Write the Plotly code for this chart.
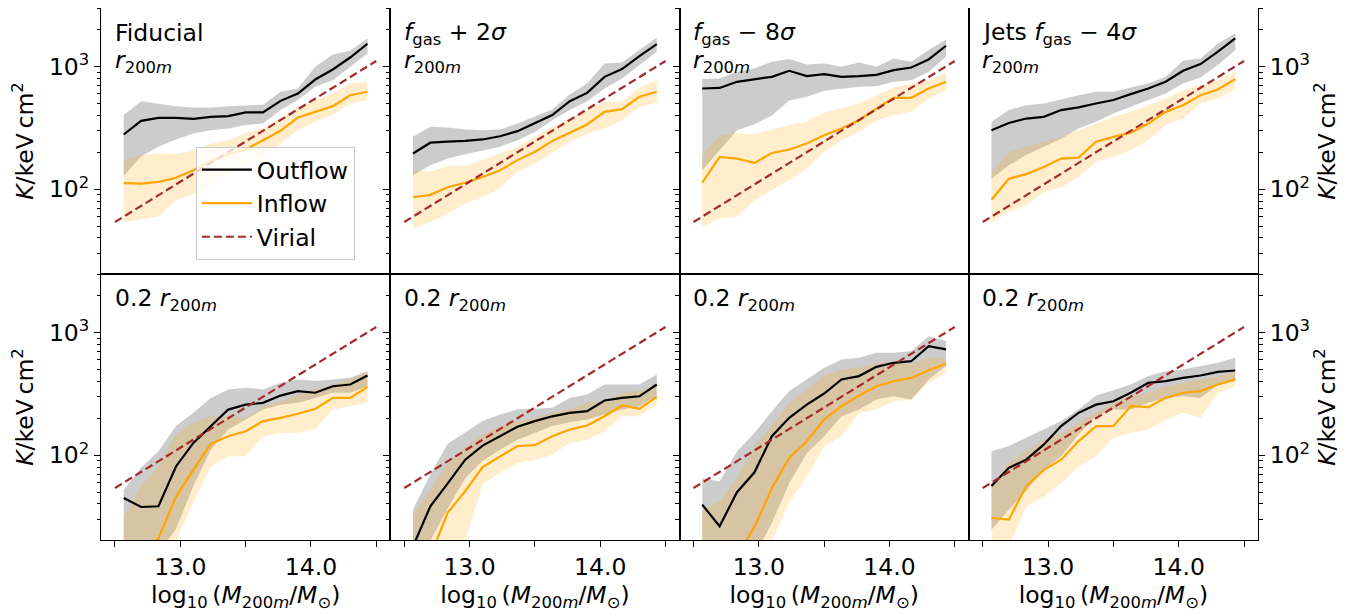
import plotly.graph_objects as go
from plotly.subplots import make_subplots

# ---------------- data ----------------
X_CENTERS = [12.567, 12.700, 12.833, 12.967, 13.100, 13.233, 13.367, 13.500,
             13.633, 13.767, 13.900, 14.033, 14.167, 14.300, 14.433]

VIRIAL_X = [12.5, 14.5]
VIRIAL_K = [54, 1115]

PANEL_TITLES = ["Fiducial", "<i>f</i><sub>gas</sub> + 2<i>σ</i>",
                "<i>f</i><sub>gas</sub> − 8<i>σ</i>", "Jets <i>f</i><sub>gas</sub> − 4<i>σ</i>"]
ROW_LABELS = ["<i>r</i><sub>200<i>m</i></sub>", "0.2 <i>r</i><sub>200<i>m</i></sub>"]

X_TICKS = [12.5, 13.0, 13.5, 14.0, 14.5]
X_TICKTEXT = ["", "13.0", "", "14.0", ""]
Y_TICKS = [100, 1000]
Y_TICKTEXT = ["10<sup>2</sup>", "10<sup>3</sup>"]
Y_MINOR = [20, 30, 40, 50, 60, 70, 80, 90, 200, 300, 400, 500, 600, 700, 800, 900, 2000, 3000]

# --- r200m (top row) ---
FID_R_OUT = [280, 362, 383, 383, 376, 390, 395, 424, 424, 527, 605, 787, 951, 1191, 1542]
FID_R_OUT_HI = [403, 523, 500, 477, 466, 466, 477, 486, 490, 625, 665, 1000, 1261, 1351, 1706]
FID_R_OUT_LO = [128, 186, 222, 255, 285, 303, 313, 334, 344, 443, 535, 687, 778, 1000, 1285]
FID_R_IN = [112, 111, 115, 124, 143, 169, 193, 211, 251, 300, 385, 428, 477, 586, 625]
FID_R_IN_HI = [173, 190, 196, 194, 208, 236, 251, 288, 313, 378, 471, 535, 605, 731, 754]
FID_R_IN_LO = [54, 57, 60, 81, 92, 108, 134, 154, 184, 236, 303, 355, 403, 501, 535]

P2_R_OUT = [196, 240, 245, 248, 255, 271, 298, 344, 403, 523, 612, 828, 957, 1222, 1531]
P2_R_OUT_HI = [268, 324, 320, 307, 303, 307, 344, 390, 448, 594, 731, 1065, 1084, 1368, 1738]
P2_R_OUT_LO = [130, 157, 178, 193, 208, 222, 251, 294, 366, 443, 523, 665, 804, 1032, 1327]
P2_R_IN = [86, 90, 104, 113, 126, 143, 173, 202, 248, 288, 338, 428, 451, 569, 625]
P2_R_IN_HI = [143, 139, 155, 155, 173, 196, 222, 268, 324, 378, 443, 517, 517, 678, 778]
P2_R_IN_LO = [48, 54, 63, 76, 87, 103, 139, 162, 198, 244, 285, 313, 366, 471, 508]

M8_R_OUT = [665, 672, 754, 793, 828, 927, 839, 871, 828, 839, 860, 939, 987, 1148, 1485]
M8_R_OUT_HI = [793, 803, 910, 969, 1099, 1155, 1045, 1065, 1000, 1084, 1000, 1170, 1099, 1368, 1671]
M8_R_OUT_LO = [143, 208, 303, 340, 400, 530, 569, 637, 665, 687, 694, 754, 778, 910, 1207]
M8_R_IN = [113, 184, 178, 164, 198, 211, 236, 276, 313, 366, 456, 558, 558, 665, 754]
M8_R_IN_HI = [190, 276, 288, 280, 307, 334, 355, 421, 456, 501, 586, 678, 731, 778, 893]
M8_R_IN_LO = [49, 58, 60, 81, 98, 119, 148, 202, 251, 294, 362, 403, 428, 551, 644]

JET_R_OUT = [303, 348, 378, 390, 443, 466, 501, 535, 598, 665, 754, 927, 1051, 1327, 1706]
JET_R_OUT_HI = [355, 443, 486, 501, 541, 586, 625, 625, 678, 731, 828, 1120, 1170, 1552, 1872]
JET_R_OUT_LO = [122, 157, 190, 222, 259, 313, 355, 416, 471, 535, 605, 731, 818, 1032, 1368]
JET_R_IN = [82, 122, 133, 152, 178, 181, 244, 268, 290, 344, 428, 486, 586, 653, 793]
JET_R_IN_HI = [139, 202, 222, 244, 268, 303, 344, 390, 428, 486, 551, 644, 708, 778, 910]
JET_R_IN_LO = [54, 65, 74, 95, 104, 126, 167, 184, 208, 251, 334, 378, 501, 551, 665]

# --- 0.2 r200m (bottom row) ---
FID_C_OUT = [44.8, 37.8, 38.3, 81, 126, 173, 236, 259, 268, 307, 334, 324, 366, 378, 448]
FID_C_OUT_HI = [52, 79, 108, 173, 222, 294, 344, 356, 344, 390, 416, 403, 416, 429, 486]
FID_C_OUT_LO = [10, 12, 16, 25, 56, 111, 162, 196, 236, 259, 268, 294, 324, 324, 366]
FID_C_IN = [12, 14, 21, 46, 76, 124, 143, 157, 190, 202, 218, 239, 294, 294, 362]
FID_C_IN_HI = [31, 56, 81, 148, 184, 208, 208, 202, 251, 276, 313, 344, 378, 416, 486]
FID_C_IN_LO = [8, 9, 12, 20, 41, 81, 98, 98, 143, 152, 152, 164, 236, 251, 268]

P2_C_OUT = [18, 38.3, 59, 92, 120, 143, 171, 190, 208, 222, 229, 280, 294, 303, 378]
P2_C_OUT_HI = [36, 69.5, 124, 154, 190, 215, 236, 240, 244, 294, 313, 378, 378, 378, 457]
P2_C_OUT_LO = [5, 20, 37, 65, 90, 111, 134, 152, 173, 186, 196, 215, 236, 251, 303]
P2_C_IN = [10, 15, 34, 51, 80, 98, 119, 121, 143, 162, 175, 208, 255, 239, 300]
P2_C_IN_HI = [32, 52, 86, 115, 148, 171, 190, 202, 222, 236, 268, 276, 324, 334, 378]
P2_C_IN_LO = [5, 8, 15, 20, 57.5, 72, 86, 92, 101, 126, 134, 157, 208, 208, 259]

M8_C_OUT = [39.5, 26.3, 49.9, 72.6, 143, 202, 259, 319, 416, 443, 527, 569, 586, 778, 731]
M8_C_OUT_HI = [65, 61, 108, 152, 229, 334, 416, 518, 605, 625, 687, 687, 708, 939, 855]
M8_C_OUT_LO = [8, 10, 15, 15, 28, 59, 104, 143, 208, 236, 285, 303, 285, 416, 535]
M8_C_IN = [8, 11, 15, 26, 54, 95, 130, 196, 252, 307, 366, 403, 428, 495, 558]
M8_C_IN_HI = [36, 42, 65, 119, 173, 268, 344, 443, 501, 518, 569, 569, 551, 625, 625]
M8_C_IN_LO = [5, 7, 9, 12, 20, 41, 67, 119, 143, 222, 236, 276, 285, 390, 471]

JET_C_OUT = [56, 79, 92, 122, 173, 222, 259, 276, 324, 390, 403, 428, 448, 480, 492]
JET_C_OUT_HI = [108, 119, 139, 162, 190, 236, 307, 340, 378, 443, 486, 501, 535, 569, 625]
JET_C_OUT_LO = [24.6, 36, 51, 76, 98, 148, 208, 236, 236, 268, 294, 303, 294, 378, 403]
JET_C_IN = [30.8, 29.8, 56, 76, 92, 130, 173, 173, 252, 247, 294, 324, 334, 378, 416]
JET_C_IN_HI = [56, 86, 108, 134, 148, 184, 222, 268, 303, 324, 366, 390, 416, 448, 471]
JET_C_IN_LO = [15, 18, 38, 46, 59, 81, 98, 139, 152, 162, 196, 222, 202, 324, 366]

PANELS = [
    [(FID_R_OUT, FID_R_OUT_LO, FID_R_OUT_HI, FID_R_IN, FID_R_IN_LO, FID_R_IN_HI),
     (P2_R_OUT, P2_R_OUT_LO, P2_R_OUT_HI, P2_R_IN, P2_R_IN_LO, P2_R_IN_HI),
     (M8_R_OUT, M8_R_OUT_LO, M8_R_OUT_HI, M8_R_IN, M8_R_IN_LO, M8_R_IN_HI),
     (JET_R_OUT, JET_R_OUT_LO, JET_R_OUT_HI, JET_R_IN, JET_R_IN_LO, JET_R_IN_HI)],
    [(FID_C_OUT, FID_C_OUT_LO, FID_C_OUT_HI, FID_C_IN, FID_C_IN_LO, FID_C_IN_HI),
     (P2_C_OUT, P2_C_OUT_LO, P2_C_OUT_HI, P2_C_IN, P2_C_IN_LO, P2_C_IN_HI),
     (M8_C_OUT, M8_C_OUT_LO, M8_C_OUT_HI, M8_C_IN, M8_C_IN_LO, M8_C_IN_HI),
     (JET_C_OUT, JET_C_OUT_LO, JET_C_OUT_HI, JET_C_IN, JET_C_IN_LO, JET_C_IN_HI)],
]

# ---------------- figure ----------------
FONT = "DejaVu Sans"
FS = 23.5
GREY_FILL = "rgba(128,128,128,0.4)"
ORANGE_FILL = "rgba(255,165,0,0.2)"
ORANGE = "#FFA500"
BROWN = "#A52A2A"

fig = make_subplots(rows=2, cols=4, horizontal_spacing=0, vertical_spacing=0)

for r in range(2):
    for c in range(4):
        out, out_lo, out_hi, inn, in_lo, in_hi = PANELS[r][c]
        first = (r == 0 and c == 0)
        xs = X_CENTERS
        fig.add_trace(go.Scatter(x=xs + xs[::-1], y=out_hi + out_lo[::-1], fill="toself",
                                 fillcolor=GREY_FILL, line=dict(width=0), mode="lines",
                                 showlegend=False, hoverinfo="skip"), row=r + 1, col=c + 1)
        fig.add_trace(go.Scatter(x=xs + xs[::-1], y=in_hi + in_lo[::-1], fill="toself",
                                 fillcolor=ORANGE_FILL, line=dict(width=0), mode="lines",
                                 showlegend=False, hoverinfo="skip"), row=r + 1, col=c + 1)
        fig.add_trace(go.Scatter(x=xs, y=out, mode="lines", line=dict(color="black", width=2.2),
                                 name="Outflow", legendgroup="out", showlegend=first),
                      row=r + 1, col=c + 1)
        fig.add_trace(go.Scatter(x=xs, y=inn, mode="lines", line=dict(color=ORANGE, width=2.2),
                                 name="Inflow", legendgroup="in", showlegend=first),
                      row=r + 1, col=c + 1)
        fig.add_trace(go.Scatter(x=VIRIAL_X, y=VIRIAL_K, mode="lines",
                                 line=dict(color=BROWN, width=2.2, dash="8px,4px"),
                                 name="Virial", legendgroup="vir", showlegend=first),
                      row=r + 1, col=c + 1)

for r in range(2):
    for c in range(4):
        bottom = (r == 1)
        fig.update_xaxes(
            row=r + 1, col=c + 1, range=[12.393, 14.607], automargin=False,
            showline=True, mirror=True, linecolor="black", linewidth=1,
            showgrid=False, zeroline=False,
            tickmode="array", tickvals=X_TICKS, ticktext=X_TICKTEXT,
            ticks="outside" if bottom else "", ticklen=6, tickwidth=1, tickcolor="black",
            showticklabels=bottom, tickfont=dict(family=FONT, size=FS, color="black"),
            title=dict(text="log<sub>10</sub>\u2009(<i>M</i><sub>200<i>m</i></sub>/<i>M</i><sub>⊙</sub>)",
                       font=dict(family=FONT, size=FS, color="black"), standoff=6) if bottom else None,
        )
        ylab = c in (0, 3)
        fig.update_yaxes(
            row=r + 1, col=c + 1, type="log", range=[1.308, 3.48], automargin=False,
            side="right" if c == 3 else "left",
            showline=True, mirror=True, linecolor="black", linewidth=1,
            showgrid=False, zeroline=False,
            tickmode="array", tickvals=Y_TICKS, ticktext=Y_TICKTEXT,
            ticks="outside", ticklen=6, tickwidth=1, tickcolor="black",
            minor=dict(tickmode="array", tickvals=Y_MINOR, ticks="outside", ticklen=3.5,
                       tickwidth=1, tickcolor="black", showgrid=False),
            showticklabels=ylab, tickfont=dict(family=FONT, size=FS, color="black"),
            title=dict(text="<i>K</i>/keV\u2009cm<sup>2</sup>",
                       font=dict(family=FONT, size=FS, color="black"), standoff=8) if ylab else None,
        )

annotations = []
for c in range(4):
    xref = "x domain" if c == 0 else f"x{c + 1} domain"
    yref = "y domain" if c == 0 else f"y{c + 1} domain"
    annotations.append(dict(text=PANEL_TITLES[c], xref=xref, yref=yref, x=0.04, y=0.905,
                            xanchor="left", yanchor="middle", showarrow=False,
                            font=dict(family=FONT, size=FS, color="black")))
    annotations.append(dict(text=ROW_LABELS[0], xref=xref, yref=yref, x=0.04, y=0.80,
                            xanchor="left", yanchor="middle", showarrow=False,
                            font=dict(family=FONT, size=FS, color="black")))
    xref2 = f"x{c + 5} domain"
    yref2 = f"y{c + 5} domain"
    annotations.append(dict(text=ROW_LABELS[1], xref=xref2, yref=yref2, x=0.04, y=0.905,
                            xanchor="left", yanchor="middle", showarrow=False,
                            font=dict(family=FONT, size=FS, color="black")))

# the page is drawn with an 8px body margin, so the figure is reduced to fit the window
fig.update_layout(
    width=1345, height=606,
    margin=dict(l=93, r=95, t=0, b=74),
    paper_bgcolor="white", plot_bgcolor="white",
    font=dict(family=FONT, size=FS, color="black"),
    annotations=annotations,
    legend=dict(x=0.082, y=0.739, xanchor="left", yanchor="top",
                bgcolor="rgba(255,255,255,0.8)", bordercolor="#cccccc", borderwidth=1,
                font=dict(family=FONT, size=FS, color="black"),
                tracegroupgap=7, itemwidth=50, traceorder="normal"),
)

fig.write_html("out.html")
